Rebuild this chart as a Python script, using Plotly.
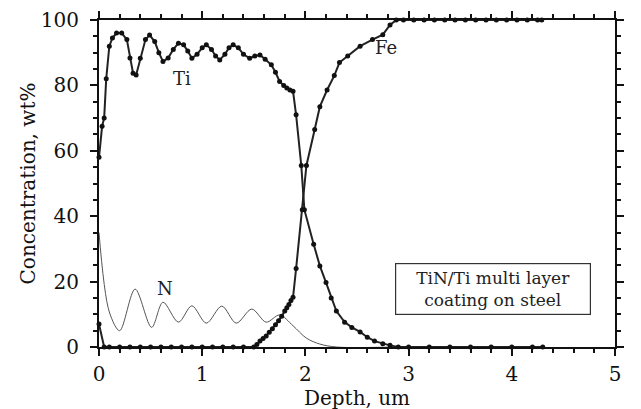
import plotly.graph_objects as go

# ---------------- data ----------------
ti_x = [0, 0.03, 0.05, 0.07, 0.1, 0.13, 0.17, 0.22, 0.27, 0.3, 0.33, 0.36, 0.4, 0.45, 0.49,
        0.54, 0.58, 0.62, 0.67, 0.72, 0.77, 0.82, 0.86, 0.9, 0.95, 1.0, 1.04, 1.09, 1.13,
        1.17, 1.22, 1.26, 1.3, 1.35, 1.4, 1.46, 1.51, 1.56, 1.61, 1.67, 1.71, 1.75, 1.79,
        1.82, 1.85, 1.88, 1.91, 1.96, 1.99, 2.08, 2.14, 2.2, 2.25, 2.3, 2.38, 2.45, 2.53,
        2.6, 2.67, 2.75, 2.82, 2.9, 3.0, 3.2, 3.4, 3.6, 3.8, 4.0, 4.2, 4.3]
ti_y = [58, 67.5, 70, 82, 92, 94.5, 96, 96, 94, 88.4, 83.7, 83.2, 88.3, 94, 95.4,
        93.4, 90, 87.3, 88.4, 91, 92.9, 92.4, 90.5, 88.3, 89.5, 91.5, 92.4, 91, 89,
        87.8, 89.5, 91.5, 92.4, 91.5, 89.5, 88.3, 89, 89.3, 88, 86.3, 84, 81.2, 80,
        79.2, 78.6, 78.2, 71, 55.5, 42, 31.4, 24.8, 19.7, 15, 11, 7.6, 6, 4.6,
        3, 1.8, 1, 0.5, 0, 0, 0, 0, 0, 0, 0, 0, 0]

fe_x = [0, 0.05, 0.1, 0.2, 0.3, 0.4, 0.5, 0.6, 0.7, 0.8, 0.9, 1.0, 1.1, 1.2, 1.3, 1.4, 1.5,
        1.53, 1.56, 1.59, 1.62, 1.65, 1.68, 1.71, 1.74, 1.77, 1.8, 1.82, 1.84, 1.86, 1.88,
        1.91, 1.97, 2.01, 2.09, 2.14, 2.21, 2.28, 2.33, 2.41, 2.53, 2.65, 2.75, 2.82,
        2.88, 2.95, 3.05, 3.15, 3.25, 3.35, 3.45, 3.55, 3.65, 3.75, 3.85, 3.95, 4.05,
        4.15, 4.25, 4.29]
fe_y = [7, 0, 0, 0, 0, 0, 0, 0, 0, 0, 0, 0, 0, 0, 0, 0, 0,
        0.8, 1.8, 2.6, 3.4, 4.5, 5.6, 6.8, 8, 9.4, 11, 12, 13, 14.2, 15.2,
        24, 42, 55.5, 66.5, 73.5, 78.6, 83, 87, 89, 92, 94, 95.5, 98.5,
        100, 100, 100, 100, 100, 100, 100, 100, 100, 100, 100, 100, 100,
        100, 100, 100]

n_x = [0, 0.1, 0.2, 0.35, 0.51, 0.62, 0.77, 0.9, 1.04, 1.19, 1.33, 1.48, 1.62, 1.75,
       1.88, 2.01, 2.14, 2.3, 3.0, 4.3]
n_y = [35, 10.7, 5, 17.7, 6, 13.7, 7.6, 12.6, 7.3, 12.5, 7.3, 11.6, 7.6, 9.8,
       6.5, 2.7, 0.9, 0, 0, 0]

x_ticks = [0, 1, 2, 3, 4, 5]
y_ticks = [0, 20, 40, 60, 80, 100]

FONT = "DejaVu Serif"
INK = "#111111"

fig = go.Figure()
fig.add_trace(go.Scatter(x=n_x, y=n_y, mode="lines",
                         line=dict(color="#555555", width=1, shape="spline", smoothing=0.9),
                         cliponaxis=False, showlegend=False))
fig.add_trace(go.Scatter(x=ti_x, y=ti_y, mode="lines+markers", line=dict(color="#222222", width=2),
                         marker=dict(size=5, color=INK), cliponaxis=False, showlegend=False))
fig.add_trace(go.Scatter(x=fe_x, y=fe_y, mode="lines+markers", line=dict(color="#222222", width=2),
                         marker=dict(size=5, color=INK), cliponaxis=False, showlegend=False))

lab_font = dict(family=FONT, size=18, color="#222")
fig.add_annotation(x=0.80, y=82, text="Ti", showarrow=False, font=lab_font)
fig.add_annotation(x=2.78, y=91.5, text="Fe", showarrow=False, font=lab_font)
fig.add_annotation(x=0.64, y=17.8, text="N", showarrow=False, font=lab_font)
fig.add_annotation(x=3.82, y=17.7, text="TiN/Ti multi layer<br>coating on steel", showarrow=False,
                   font=dict(family=FONT, size=17, color="#222"), bordercolor="#333", borderwidth=1.2,
                   borderpad=2, width=190, height=46, align="center")

axis_common = dict(showline=True, linecolor=INK, linewidth=2, mirror="allticks", ticks="outside",
                   tickcolor=INK, ticklen=7, tickwidth=1.5, showgrid=False, zeroline=False,
                   automargin=False, tickfont=dict(family=FONT, size=20, color=INK))
fig.update_xaxes(range=[0, 5], tickvals=x_ticks, ticktext=[str(v) for v in x_ticks],
                 minor=dict(dtick=0.2, ticklen=4, ticks="outside", tickcolor=INK),
                 title=dict(text="Depth, um", font=dict(family=FONT, size=20, color=INK), standoff=0),
                 ticklabelstandoff=1,
                 **axis_common)
fig.update_yaxes(range=[0, 100], tickvals=y_ticks, ticktext=[str(v) for v in y_ticks],
                 minor=dict(dtick=5, ticklen=4, ticks="outside", tickcolor=INK),
                 title=dict(text="Concentration, wt%", font=dict(family=FONT, size=20, color=INK), standoff=0),
                 ticklabelstandoff=7,
                 **axis_common)
# the page body adds an 8 px offset, so the margins are shifted to place the axes as in the reference
fig.update_layout(width=641, height=409, margin=dict(l=91, r=34, t=12, b=70),
                  paper_bgcolor="white", plot_bgcolor="white")
fig.write_html("out.html")
